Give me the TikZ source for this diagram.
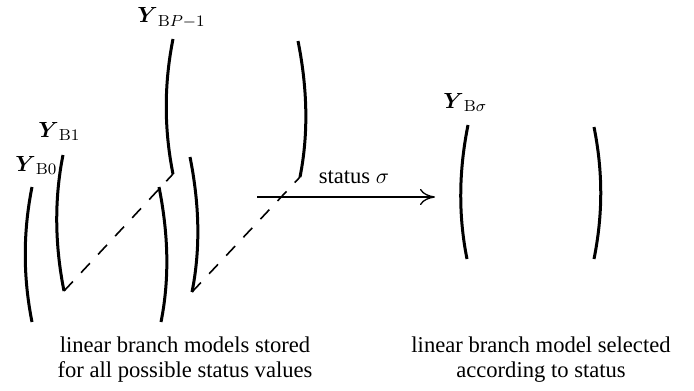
\documentclass[tikz,border=0pt]{standalone}
\usepackage{amsmath}
\usepackage[no-math]{fontspec}
\setmainfont{Liberation Serif}
\usetikzlibrary{arrows.meta}
\tikzset{
  paren/.style={line width=1.5pt, line cap=butt},
  dashline/.style={line width=0.8pt, dash pattern=on 6.5pt off 6pt},
  selarrow/.style={line width=0.65pt, -{Computer Modern Rightarrow[length=7.5pt,width=8pt]}},
  txt/.style={inner sep=0pt, font=\fontsize{11.3}{12.5}\selectfont},
}
\begin{document}
\begin{tikzpicture}[x=0.5pt, y=-0.5pt]
\useasboundingbox (0,0) rectangle (694,390);
% corner coordinates of the matrices
\coordinate (b0tl) at (32,187);  \coordinate (b0bl) at (32,322);
\coordinate (b0tr) at (159,187); \coordinate (b0br) at (161,322);
\coordinate (b1tl) at (63,155);  \coordinate (b1bl) at (64,291);
\coordinate (b1tr) at (190,157); \coordinate (b1br) at (192,292);
\coordinate (bptl) at (173,39);  \coordinate (bpbl) at (173,174);
\coordinate (bptr) at (298,41);  \coordinate (bpbr) at (300,177);
\coordinate (bstl) at (468,125); \coordinate (bsbl) at (467,259);
\coordinate (bstr) at (594,127); \coordinate (bsbr) at (594,259);
% parentheses
\foreach \m in {b0,b1,bp,bs}{
  \draw[paren] (\m tl) .. controls +(-9,45) and +(-9,-45) .. (\m bl);
  \draw[paren] (\m tr) .. controls +(9,45) and +(9,-45) .. (\m br);
}
% dashed links
\draw[dashline] (b1bl) -- (bpbl);
\draw[dashline] (b1br) -- (bpbr);
% labels
\node[txt, anchor=base west] (l0) at (15,171) {$\boldsymbol{Y}_{\mathrm{B}0}$};
\node[txt, anchor=base west] (l1) at (38,137) {$\boldsymbol{Y}_{\mathrm{B}1}$};
\node[txt, anchor=base west] (lp) at (137,23) {$\boldsymbol{Y}_{\mathrm{B}P-1}$};
\node[txt, anchor=base west] (ls) at (443,108) {$\boldsymbol{Y}_{\mathrm{B}\sigma}$};
% arrow
\coordinate (as) at (257,197);
\coordinate (ae) at (435,197);
\draw[selarrow] (as) -- (ae);
\node[txt, anchor=base] (st) at (354,183) {status $\sigma$};
% captions
\node[txt, anchor=base] (c1a) at (185,352) {linear branch models stored};
\node[txt, anchor=base] (c1b) at (185,377) {for all possible status values};
\node[txt, anchor=base] (c2a) at (541,352) {linear branch model selected};
\node[txt, anchor=base] (c2b) at (541,377) {according to status};
\end{tikzpicture}
\end{document}
